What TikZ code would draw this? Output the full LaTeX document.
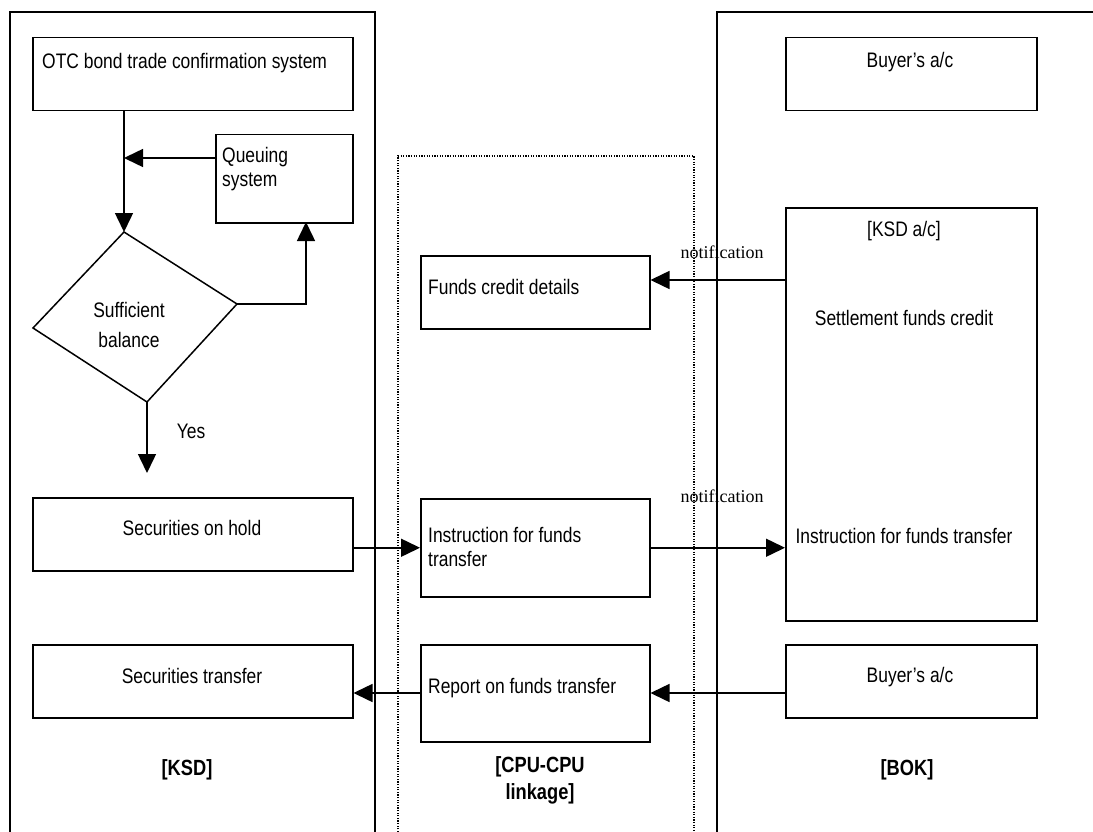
\documentclass[tikz,border=0pt]{standalone}
\usepackage{fontspec}
\setmainfont[FakeStretch=0.83]{Liberation Sans}
\newfontfamily\serifnote{Liberation Serif}
\usetikzlibrary{arrows.meta}
\begin{document}
\begin{tikzpicture}[x=1pt,y=-1pt,
  box/.style={draw, line width=1.5pt, anchor=north west, inner sep=0pt},
  txt/.style={font=\fontsize{21}{24}\selectfont, inner sep=0pt},
  ttl/.style={font=\fontsize{22}{27}\selectfont\bfseries, inner sep=0pt, align=center},
  note/.style={font=\serifnote\fontsize{18}{20}\selectfont, inner sep=0pt},
  arr/.style={line width=1.5pt, -{Triangle[length=19pt,width=18pt]}},
  panel/.style={line width=1.5pt},
  dotpanel/.style={line width=1.3pt, dash pattern=on 1.3pt off 1.3pt}]
\useasboundingbox (0,0) rectangle (1093,832);

% panels
\draw[panel] (10,832) -- (10,12) -- (375,12) -- (375,832);
\draw[panel] (717,832) -- (717,12) -- (1093,12);
\draw[dotpanel] (398,832) -- (398,156) -- (694,156) -- (694,832);

% KSD side boxes
\node[box, minimum width=320pt, minimum height=73pt] (otc) at (32,37) {};
\node[txt, anchor=base west] at (42,69) {OTC bond trade confirmation system};
\node[box, minimum width=137pt, minimum height=88pt] (queue) at (215,134) {};
\node[txt, anchor=north west, align=left] at (222,147) {Queuing\\system};

\coordinate (dtop) at (124,232);
\coordinate (dright) at (237,304);
\coordinate (dbot) at (147,402);
\coordinate (dleft) at (33,328);
\draw[line width=1.5pt] (dtop) -- (dright) -- (dbot) -- (dleft) -- cycle;
\node[txt, align=center, font=\fontsize{21}{30}\selectfont] (suff) at (129,325) {Sufficient\\balance};

\node[box, minimum width=320pt, minimum height=73pt] (hold) at (32,497) {};
\node[txt] at (192,528) {Securities on hold};
\node[box, minimum width=320pt, minimum height=73pt] (sectr) at (32,644) {};
\node[txt] at (192,676) {Securities transfer};

% CPU linkage boxes
\node[box, minimum width=229pt, minimum height=73pt] (fcd) at (420,255) {};
\node[txt, anchor=west] at (428,287) {Funds credit details};
\node[box, minimum width=229pt, minimum height=98pt] (instr) at (420,498) {};
\node[txt, anchor=north west, align=left] at (428,527) {Instruction for funds\\transfer};
\node[box, minimum width=229pt, minimum height=97pt] (report) at (420,644) {};
\node[txt, anchor=west] at (428,688) {Report on funds transfer};

% BOK boxes
\node[box, minimum width=251pt, minimum height=73pt] (buyer1) at (785,37) {};
\node[txt] at (910,62) {Buyer's a/c};
\node[box, minimum width=251pt, minimum height=413pt] (ksdac) at (785,207) {};
\node[txt] at (904,231) {[KSD a/c]};
\node[txt] at (904,318) {Settlement funds credit};
\node[txt] at (904,536) {Instruction for funds transfer};
\node[box, minimum width=251pt, minimum height=73pt] (buyer2) at (785,644) {};
\node[txt] at (910,677) {Buyer's a/c};

% titles
\node[ttl] (tksd) at (187,770) {[KSD]};
\node[ttl, anchor=north] (tcpu) at (540,756) {[CPU-CPU\\linkage]};
\node[ttl] (tbok) at (907,770) {[BOK]};

% connectors
\coordinate (qj) at (124,158);
\coordinate (qin) at (306,222);
\coordinate (yesend) at (147,473);
\coordinate (n1) at (785,280);
\coordinate (r1) at (785,693);
\draw[line width=1.5pt] (otc.south -| dtop) -- (qj);
\draw[arr] (qj) -- (dtop);
\draw[arr] (queue.west |- qj) -- (qj);
\draw[arr] (dright) -| (qin);
\draw[arr] (dbot) -- (yesend);
\node[txt] (yes) at (191,431) {Yes};
\draw[arr] (hold.east |- instr.west) -- (instr.west);
\draw[arr] (instr.east) -- (instr.east -| ksdac.west);
\draw[arr] (n1) -- (n1 -| fcd.east);
\draw[arr] (r1) -- (r1 -| report.east);
\draw[arr] (report.west |- r1) -- (r1 -| sectr.east);

\node[note] (note1) at (722,252) {notification};
\node[note] (note2) at (722,496) {notification};
\end{tikzpicture}
\end{document}
